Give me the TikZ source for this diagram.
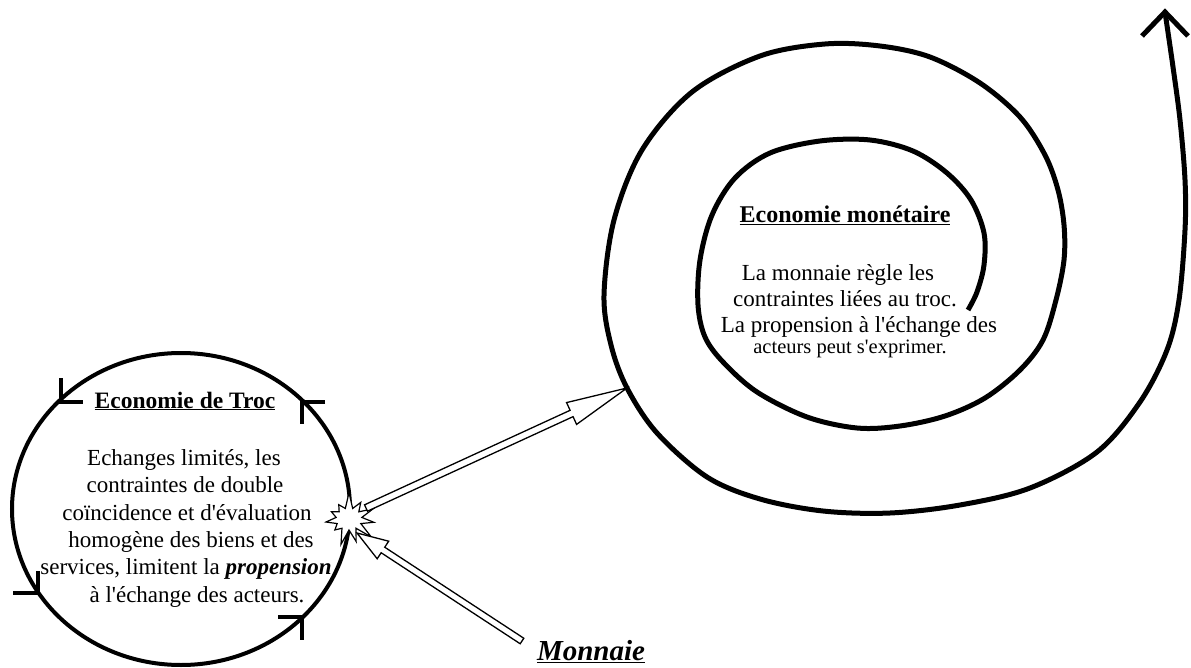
\documentclass[tikz,border=0pt]{standalone}
\usepackage{fontspec}
\setmainfont{Liberation Serif}[Ligatures=TeXOff]
\usetikzlibrary{calc,shapes.symbols}
\tikzset{
  ring/.style={line width=4pt},
  tickmark/.style={line width=4pt, line cap=butt, line join=miter},
  spiralline/.style={line width=5pt, line join=round},
  blockarrow/.style={draw, fill=white, line width=1.3pt, line join=miter},
  bodytxt/.style={anchor=base, inner sep=0pt, font=\fontsize{23}{27}\selectfont},
  titletxt/.style={anchor=base, inner sep=0pt, font=\fontsize{23.5}{27}\selectfont\bfseries},
}
\newcommand{\drawblockarrow}[5]{% tail, tip, head length, head half width, shaft half width
  \coordinate (#1j) at ($(#2)!#3!(#1)$);
  \draw[blockarrow] ($(#1)!#5!90:(#2)$) -- ($(#1j)!#5!90:(#2)$) -- ($(#1j)!#4!90:(#2)$)
    -- (#2) -- ($(#1j)!#4!-90:(#2)$) -- ($(#1j)!#5!-90:(#2)$) -- ($(#1)!#5!-90:(#2)$) -- cycle;
}
\begin{document}
\begin{tikzpicture}[x=1pt,y=-1pt]
\useasboundingbox[fill=white] (0,0) rectangle (1191,668);

% ---- barter circle
\draw[ring] (181,509) ellipse [x radius=169pt, y radius=156pt];
\draw[tickmark] (61,378) -- (61,402) -- (83,402);
\draw[tickmark] (325,402) -- (302,402) -- (302,424);
\draw[tickmark] (13,593) -- (38,593) -- (38,571);
\draw[tickmark] (278,617) -- (302,617) -- (302,640);

\node[titletxt] (troc) at (185,408) {\underline{Economie de Troc}};
\node[bodytxt] (l1) at (184,465) {Echanges limités, les};
\node[bodytxt] (l2) at (185,492) {contraintes de double};
\node[bodytxt] (l3) at (187,520) {coïncidence et d'évaluation};
\node[bodytxt] (l4) at (191,547) {homogène des biens et des};
\node[bodytxt] (l5) at (186,574) {services, limitent la \textbf{\textit{propension}}};
\node[bodytxt] (l6) at (197,602) {à l'échange des acteurs.};

% ---- spiral
\draw[spiralline] plot[smooth, tension=0.55] coordinates {
 (968,310) (977,292) (984,265) (984,233) (971,200) (947,173) (913,151) (870,140)
 (820,141) (770,153) (735,178) (712,215) (700,260) (698,305) (705,337) (723,362)
 (757,392) (807,417) (857,428) (900,426) (945,416) (985,398) (1020,370) (1043,340)
 (1056,300) (1064,260) (1064,225) (1058,190) (1045,155) (1020,117) (980,83) (930,57)
 (880,46) (825,44) (760,56) (692,92) (642,150) (614,220) (604,295) (611,345)
 (627,388) (657,433) (707,477) (760,499) (823,511) (890,513) (960,505) (1030,488)
 (1097,452) (1140,402) (1167,350) (1179,300) (1185,230) (1185,180) (1180,120)
 (1173,67) (1165,12)};
\coordinate (tip) at (1165,12);
\draw[spiralline, line join=miter] (1142,36) -- (tip) -- (1188,36);
\coordinate (spin) at (627,388);

\node[titletxt, font=\fontsize{24}{27}\selectfont\bfseries] (mone) at (845,223) {\underline{Economie monétaire}};
\node[bodytxt] (r1) at (838,280) {La monnaie règle les};
\node[bodytxt] (r2) at (845,306) {contraintes liées au troc.};
\node[bodytxt] (r3) at (859,332) {La propension à l'échange des};
\node[bodytxt, font=\fontsize{20.5}{24}\selectfont] (r4) at (850,353) {acteurs peut s'exprimer.};

% ---- explosion and arrows
\node[starburst, draw, fill=white, line width=1.2pt, starburst points=11,
      starburst point height=17pt, minimum width=60pt, minimum height=56pt,
      random starburst=7] (star) at (349,519) {};
\coordinate (a1s) at (366,508);
\drawblockarrow{a1s}{spin}{61pt}{12pt}{3.5pt}
\coordinate (a2s) at (522,641);
\coordinate (a2t) at (357,533);
\drawblockarrow{a2s}{a2t}{31pt}{10.5pt}{3.3pt}

\node[anchor=base, inner sep=0pt, font=\fontsize{29}{30}\selectfont\bfseries\itshape] (monnaie) at (591,660) {\underline{Monnaie}};
\end{tikzpicture}
\end{document}
